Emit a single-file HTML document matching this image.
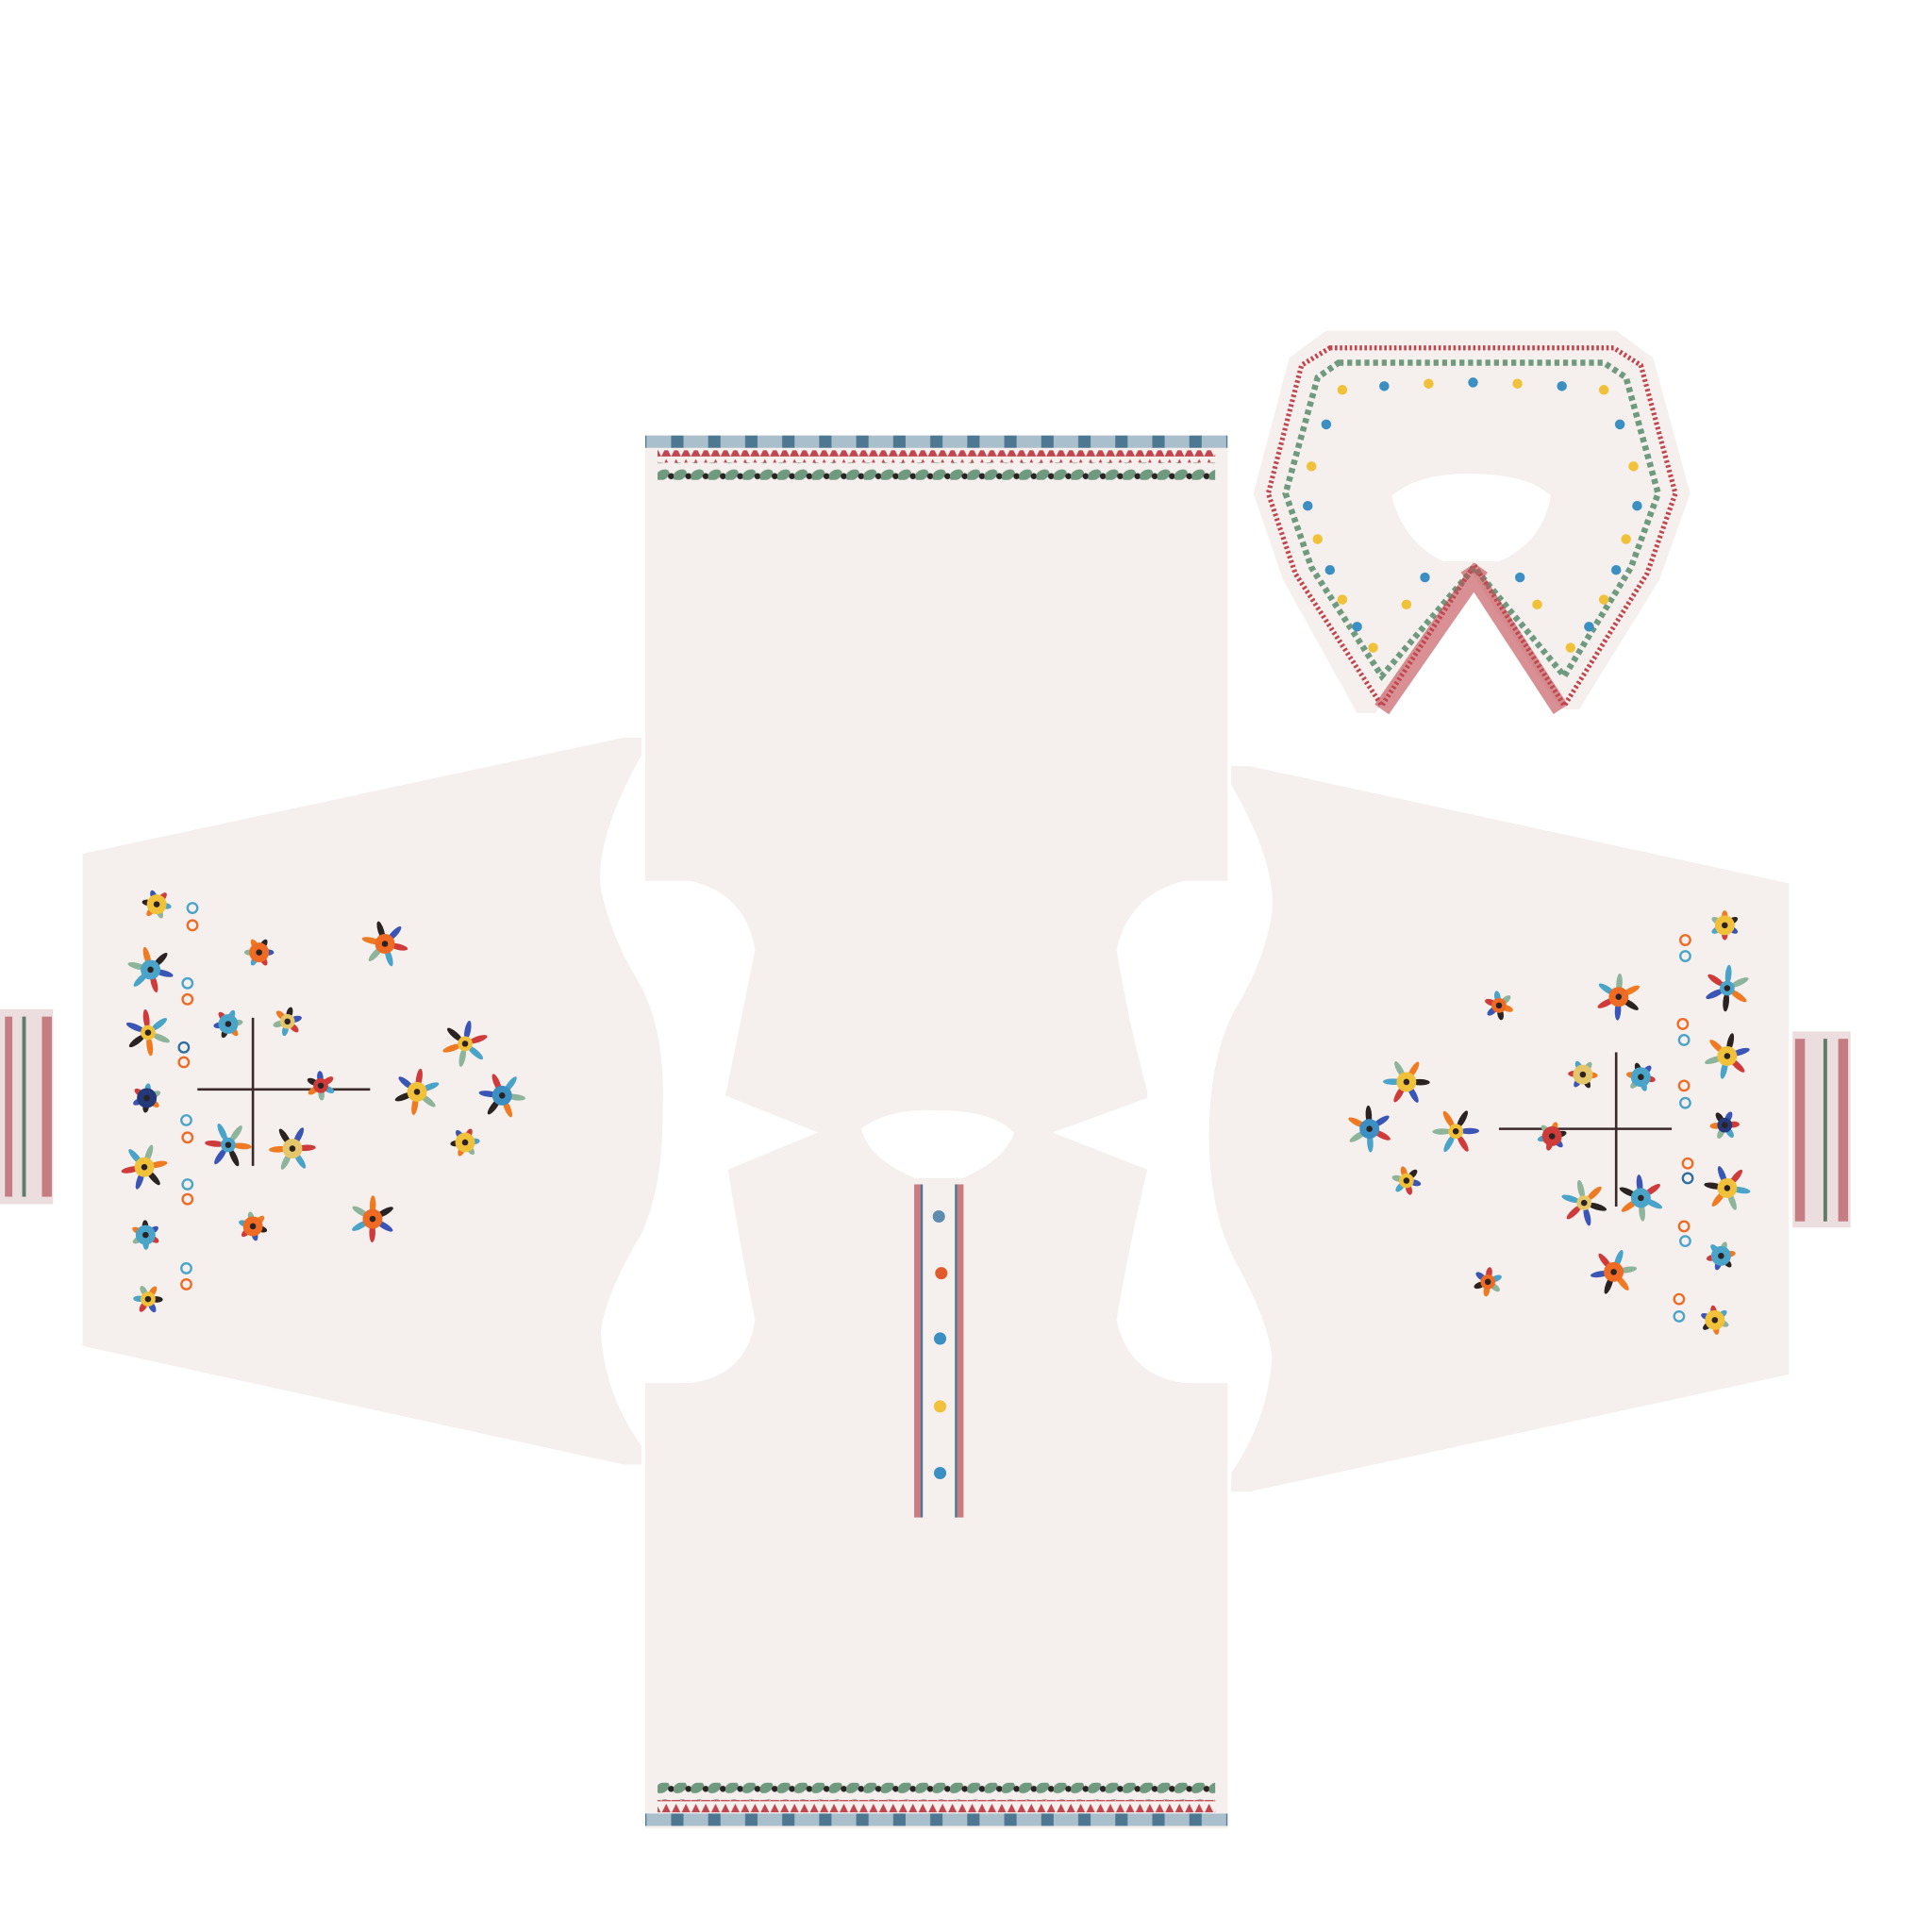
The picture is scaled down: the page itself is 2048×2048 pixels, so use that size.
<!DOCTYPE html>
<html><head><meta charset="utf-8"><style>html,body{margin:0;padding:0;background:#fff}svg{display:block}</style></head>
<body>
<svg id="s" width="2048" height="2048" viewBox="0 0 1566 1566" xmlns="http://www.w3.org/2000/svg">
<defs>
<pattern id="zig" width="8" height="10" patternUnits="userSpaceOnUse"><path d="M0 10 L4 2 L8 10Z" fill="#c0474f"/></pattern>
<pattern id="leaf" width="14" height="14" patternUnits="userSpaceOnUse"><ellipse cx="5" cy="7" rx="6" ry="4" fill="#6f9a80" transform="rotate(-30 5 7)"/><circle cx="12" cy="8" r="2.5" fill="#2b2222"/></pattern>
<pattern id="stripe" width="30" height="10" patternUnits="userSpaceOnUse"><rect width="30" height="10" fill="#a9bfcc"/><rect x="4" width="10" height="10" fill="#4e7891"/></pattern>
</defs>
<g fill="#f5f0ee">
<path d="M523 353 H995 V714 H960 Q915 725 905 770 Q915 830 930 885 L930 890 L853 918 L930 948 Q915 1010 905 1070 Q915 1115 960 1121 H995 V1482 H523 V1121 H560 Q605 1115 612 1070 Q600 1010 590 948 L663 918 L588 888 Q600 830 612 770 Q605 725 560 714 H523Z"/>
<path d="M67 692 L505 598 H520 V612 Q482 680 487 720 Q495 760 520 800 Q540 840 537 900 Q538 960 520 1000 Q490 1050 487 1080 Q490 1130 520 1172 V1187 H505 L67 1091Z"/>
<path d="M1450 716 L1013 621 H998 V636 Q1035 700 1031 740 Q1025 780 1000 820 Q980 860 980 920 Q980 980 1000 1020 Q1028 1070 1031 1100 Q1028 1150 998 1194 V1209 H1013 L1450 1114Z"/>
<path d="M1075 268 H1310 L1340 290 L1370 400 L1345 470 L1280 575 H1265 L1190 460 L1115 578 H1100 L1040 470 L1016 400 L1045 290Z"/>
</g>
<rect x="0" y="818" width="43" height="158" fill="#ecdede"/>
<rect x="4" y="824" width="6" height="146" fill="#b5545c" opacity=".7"/><rect x="34" y="824" width="8" height="146" fill="#b5545c" opacity=".7"/><rect x="18" y="824" width="3" height="146" fill="#5d7c6c"/>
<rect x="1453" y="836" width="47" height="159" fill="#ecdede"/>
<rect x="1455" y="842" width="8" height="148" fill="#b5545c" opacity=".7"/><rect x="1490" y="842" width="8" height="148" fill="#b5545c" opacity=".7"/><rect x="1478" y="842" width="3" height="148" fill="#5d7c6c"/>
<path d="M698 915 Q720 898 760 900 Q805 900 822 918 Q815 940 780 955 H742 Q705 940 698 915Z" fill="#fff"/>
<path d="M1128 402 Q1150 383 1195 384 Q1240 385 1257 402 Q1250 440 1215 455 H1170 Q1138 440 1128 402Z" fill="#fff"/>
<path d="M1078 282 H1308 L1330 296 L1358 400 L1335 465 L1268 572 L1195 458 L1120 572 L1050 465 L1028 400 L1055 296Z" fill="none" stroke="#c0474f" stroke-width="4" stroke-dasharray="2 2"/>
<path d="M1085 294 H1300 L1318 306 L1344 400 L1322 460 L1268 548 L1195 460 L1120 548 L1063 460 L1042 400 L1068 306Z" fill="none" stroke="#6f9a80" stroke-width="5" stroke-dasharray="4 3"/>
<path d="M1190 460 L1265 575 M1200 460 L1120 575" stroke="#c0474f" stroke-width="14" opacity=".6"/>
<g>
<rect x="523" y="353" width="472" height="10" fill="url(#stripe)"/>
<rect x="533" y="365" width="452" height="10" fill="url(#zig)"/>
<rect x="533" y="375" width="452" height="14" fill="url(#leaf)"/>
</g>
<g>
<rect x="533" y="1445" width="452" height="14" fill="url(#leaf)"/>
<rect x="533" y="1459" width="452" height="10" fill="url(#zig)"/>
<rect x="523" y="1470" width="472" height="10" fill="url(#stripe)"/>
</g>
<g>
<rect x="741" y="960" width="5" height="270" fill="#c0474f" opacity=".7"/>
<rect x="776" y="960" width="5" height="270" fill="#c0474f" opacity=".7"/>
<rect x="746" y="960" width="2" height="270" fill="#4e7891"/>
<rect x="774" y="960" width="2" height="270" fill="#4e7891"/>
<circle cx="761" cy="986" r="5" fill="#5d8cae"/><circle cx="763" cy="1032" r="5" fill="#e05a2c"/>
<circle cx="762" cy="1085" r="5" fill="#3b8fc2"/><circle cx="762" cy="1140" r="5" fill="#f2c13a"/><circle cx="762" cy="1194" r="5" fill="#3b8fc2"/>
</g>
<g id="motifs"></g>
</svg>
<script>
const flowers=[[210,772,'#ef6a22'],[312,765,'#ef6a22'],[260,880,'#cf3b3b'],[338,885,'#f2c13a'],[185,830,'#4aa3c8'],[185,928,'#4aa3c8'],[205,994,'#ef6a22'],[302,988,'#ef6a22'],[233,828,'#e6c66a'],[237,931,'#e6c66a'],[127,733,'#f2c13a'],[120,837,'#f2c13a'],[119,890,'#24397a'],[117,946,'#f2c13a'],[120,1053,'#f2c13a'],[122,786,'#4aa3c8'],[118,1001,'#4aa3c8'],[377,846,'#f2c13a'],[377,926,'#f2c13a'],[407,888,'#3b8fc2'],
[1215,815,'#ef6a22'],[1312,808,'#ef6a22'],[1258,921,'#cf3b3b'],[1180,917,'#f2c13a'],[1330,873,'#4aa3c8'],[1330,971,'#4aa3c8'],[1206,1039,'#ef6a22'],[1308,1031,'#ef6a22'],[1283,871,'#e6c66a'],[1284,975,'#e6c66a'],[1398,750,'#f2c13a'],[1400,856,'#f2c13a'],[1398,912,'#24397a'],[1400,963,'#f2c13a'],[1390,1070,'#f2c13a'],[1400,801,'#4aa3c8'],[1395,1018,'#4aa3c8'],[1140,877,'#f2c13a'],[1140,957,'#f2c13a'],[1110,915,'#3b8fc2']];
const rings=[[156,736,'#4aa3c8'],[156,750,'#ef6a22'],[152,797,'#4aa3c8'],[152,810,'#ef6a22'],[149,849,'#2f6ea0'],[149,861,'#ef6a22'],[151,908,'#4aa3c8'],[152,922,'#ef6a22'],[152,960,'#4aa3c8'],[152,972,'#ef6a22'],[151,1028,'#4aa3c8'],[151,1041,'#ef6a22'],
[1366,762,'#ef6a22'],[1366,775,'#4aa3c8'],[1364,830,'#ef6a22'],[1365,843,'#4aa3c8'],[1365,880,'#ef6a22'],[1366,894,'#4aa3c8'],[1368,943,'#ef6a22'],[1368,955,'#2f6ea0'],[1365,994,'#ef6a22'],[1366,1006,'#4aa3c8'],[1361,1053,'#ef6a22'],[1361,1067,'#4aa3c8']];
const collarDots=[[1088,316,'#f2c13a'],[1122,313,'#3b8fc2'],[1158,311,'#f2c13a'],[1194,310,'#3b8fc2'],[1230,311,'#f2c13a'],[1266,313,'#3b8fc2'],[1300,316,'#f2c13a'],[1075,344,'#3b8fc2'],[1313,344,'#3b8fc2'],[1063,378,'#f2c13a'],[1324,378,'#f2c13a'],[1060,410,'#3b8fc2'],[1327,410,'#3b8fc2'],[1068,437,'#f2c13a'],[1318,437,'#f2c13a'],[1078,462,'#3b8fc2'],[1310,462,'#3b8fc2'],[1088,486,'#f2c13a'],[1300,486,'#f2c13a'],[1100,508,'#3b8fc2'],[1288,508,'#3b8fc2'],[1113,525,'#f2c13a'],[1273,525,'#f2c13a'],[1140,490,'#f2c13a'],[1246,490,'#f2c13a'],[1155,468,'#3b8fc2'],[1232,468,'#3b8fc2']];
const g=document.getElementById('motifs');
const ns='http://www.w3.org/2000/svg';
const leafCols=['#3a55b5','#cf3b3b','#4aa3c8','#8fb49c','#ef7a22','#2b2222'];
[[160,883,300,883],[205,825,205,945],[1355,915,1215,915],[1310,853,1310,978]].forEach(([a,b,c,d])=>{const l=document.createElementNS(ns,'line');
  
  
  l.setAttribute('x1',a);l.setAttribute('y1',b);l.setAttribute('x2',c);l.setAttribute('y2',d);l.setAttribute('stroke','#3a2a2a');l.setAttribute('stroke-width',2);g.appendChild(l);});
flowers.forEach(([x,y,c],i)=>{
  for(let k=0;k<6;k++){const e=document.createElementNS(ns,'ellipse');
    
    
    const a=k*60+i*13;const px=x+Math.cos(a*Math.PI/180)*(i%2?11:7),py=y+Math.sin(a*Math.PI/180)*(i%2?11:7);
    e.setAttribute('cx',px);e.setAttribute('cy',py);
    e.setAttribute('rx',i%2?8:5);e.setAttribute('ry',2.5);e.setAttribute('fill',leafCols[(k+i)%6]);
    e.setAttribute('transform','rotate('+a+' '+px+' '+py+')');g.appendChild(e);}
  const f=document.createElementNS(ns,'circle');
  
  
  f.setAttribute('cx',x);f.setAttribute('cy',y);f.setAttribute('r',i%3==2?6:8);f.setAttribute('fill',c);g.appendChild(f);
  const d=document.createElementNS(ns,'circle');d.setAttribute('cx',x);d.setAttribute('cy',y);d.setAttribute('r',2.5);d.setAttribute('fill','#2b2222');g.appendChild(d);
});
rings.forEach(([x,y,c])=>{const r=document.createElementNS(ns,'circle');
  
  
  r.setAttribute('cx',x);r.setAttribute('cy',y);r.setAttribute('r',4);r.setAttribute('fill','none');r.setAttribute('stroke',c);r.setAttribute('stroke-width',1.8);g.appendChild(r);});
collarDots.forEach(([x,y,c])=>{const r=document.createElementNS(ns,'circle');
  
  
  r.setAttribute('cx',x);r.setAttribute('cy',y);r.setAttribute('r',4);r.setAttribute('fill',c);g.appendChild(r);});
</script>
</body></html>
